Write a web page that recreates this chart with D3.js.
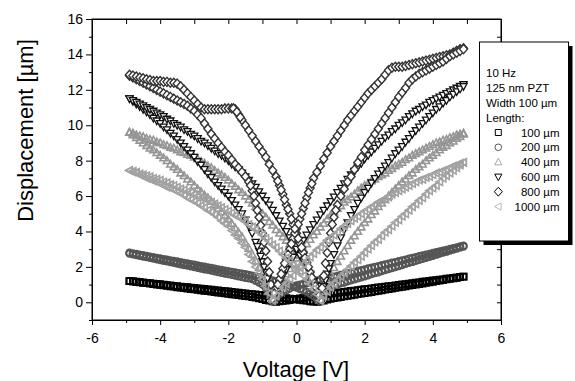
<!DOCTYPE html>
<html><head><meta charset="utf-8">
<script src="https://cdn.jsdelivr.net/npm/d3@7"></script>
<style>body{margin:0;background:#fff}svg{display:block}text{font-family:"Liberation Sans",Arial,sans-serif}</style>
</head><body>
<svg id="c" width="575" height="381"></svg>
<script>
// ---- data ----
const voltage = [-4.9,-4.8,-4.7,-4.6,-4.5,-4.4,-4.3,-4.2,-4.1,-4.0,
-3.9,-3.8,-3.7,-3.6,-3.5,-3.4,-3.3,-3.2,-3.1,-3.0,
-2.9,-2.8,-2.7,-2.6,-2.5,-2.4,-2.3,-2.2,-2.1,-2.0,
-1.9,-1.8,-1.7,-1.6,-1.5,-1.4,-1.3,-1.2,-1.1,-1.0,
-0.9,-0.8,-0.7,-0.6,-0.5,-0.4,-0.3,-0.2,-0.1,0,
0.1,0.2,0.3,0.4,0.5,0.6,0.7,0.8,0.9,1.0,
1.1,1.2,1.3,1.4,1.5,1.6,1.7,1.8,1.9,2.0,
2.1,2.2,2.3,2.4,2.5,2.6,2.7,2.8,2.9,3.0,
3.1,3.2,3.3,3.4,3.5,3.6,3.7,3.8,3.9,4.0,
4.1,4.2,4.3,4.4,4.5,4.6,4.7,4.8,4.9];

const d100a = [1.20,1.18,1.15,1.13,1.10,1.08,1.05,1.03,1.00,0.98,
0.95,0.93,0.90,0.88,0.85,0.83,0.80,0.78,0.75,0.73,
0.70,0.68,0.65,0.63,0.60,0.58,0.55,0.53,0.50,0.48,
0.45,0.43,0.40,0.38,0.35,0.33,0.30,0.26,0.22,0.18,
0.13,0.09,0.05,0.02,0.05,0.08,0.10,0.13,0.16,0.19,
0.22,0.25,0.28,0.31,0.34,0.37,0.40,0.43,0.46,0.49,
0.51,0.54,0.56,0.59,0.61,0.64,0.66,0.69,0.71,0.74,
0.76,0.79,0.81,0.84,0.86,0.89,0.91,0.93,0.96,0.98,
1.01,1.03,1.06,1.08,1.11,1.13,1.16,1.18,1.21,1.23,
1.25,1.28,1.30,1.33,1.35,1.38,1.40,1.43,1.45];
const d100b = [1.20,1.18,1.16,1.14,1.12,1.10,1.08,1.06,1.04,1.02,
1.00,0.97,0.95,0.93,0.91,0.89,0.87,0.85,0.83,0.81,
0.79,0.77,0.75,0.73,0.71,0.69,0.67,0.65,0.63,0.61,
0.59,0.56,0.54,0.52,0.50,0.48,0.46,0.44,0.42,0.40,
0.38,0.35,0.33,0.30,0.28,0.26,0.23,0.21,0.18,0.16,
0.14,0.11,0.09,0.06,0.04,0.02,0.06,0.10,0.15,0.20,
0.23,0.26,0.30,0.33,0.36,0.39,0.42,0.46,0.49,0.52,
0.55,0.58,0.62,0.65,0.68,0.71,0.74,0.78,0.81,0.84,
0.87,0.90,0.94,0.97,1.00,1.03,1.06,1.10,1.13,1.16,
1.19,1.22,1.26,1.29,1.32,1.35,1.38,1.42,1.45];

const d200a = [2.75,2.71,2.67,2.63,2.59,2.55,2.51,2.47,2.43,2.39,
2.35,2.31,2.27,2.23,2.19,2.15,2.11,2.07,2.03,1.99,
1.95,1.91,1.87,1.83,1.79,1.75,1.71,1.67,1.63,1.59,
1.55,1.51,1.47,1.43,1.39,1.35,1.31,1.22,1.12,1.00,
0.80,0.50,0.05,0.30,0.45,0.58,0.68,0.78,0.87,0.95,
1.00,1.04,1.09,1.13,1.18,1.22,1.27,1.31,1.36,1.40,
1.45,1.49,1.54,1.58,1.63,1.68,1.72,1.77,1.81,1.86,
1.91,1.95,2.00,2.04,2.09,2.14,2.18,2.23,2.27,2.32,
2.37,2.41,2.46,2.50,2.55,2.60,2.64,2.69,2.73,2.78,
2.83,2.87,2.92,2.96,3.01,3.06,3.10,3.15,3.19];
const d200b = [2.80,2.76,2.73,2.69,2.66,2.62,2.58,2.55,2.51,2.48,
2.44,2.40,2.37,2.33,2.30,2.26,2.22,2.19,2.15,2.12,
2.08,2.04,2.01,1.97,1.94,1.90,1.86,1.83,1.79,1.76,
1.72,1.68,1.65,1.61,1.58,1.54,1.50,1.46,1.41,1.37,
1.32,1.28,1.23,1.19,1.14,1.10,1.05,0.98,0.90,0.83,
0.75,0.68,0.60,0.48,0.35,0.20,0.05,0.45,0.70,0.85,
0.95,1.01,1.07,1.12,1.18,1.24,1.30,1.36,1.41,1.47,
1.53,1.59,1.65,1.70,1.76,1.82,1.88,1.94,1.99,2.05,
2.11,2.17,2.23,2.28,2.34,2.40,2.46,2.52,2.57,2.63,
2.69,2.75,2.81,2.86,2.92,2.98,3.04,3.10,3.15];

const d400a = [9.6,9.45,9.3,9.15,9.0,8.85,8.7,8.6,8.45,8.3,
8.15,8.0,7.8,7.65,7.5,7.3,7.15,6.95,6.8,6.6,
6.4,6.25,6.05,5.9,5.7,5.5,5.3,5.1,4.9,4.7,
4.45,4.2,3.95,3.7,3.35,3.05,2.7,2.35,1.95,1.6,
1.15,0.65,0.15,0.6,1.0,1.3,1.6,1.9,2.2,2.5,
2.8,3.05,3.3,3.55,3.8,4.0,4.25,4.45,4.7,4.9,
5.1,5.3,5.45,5.65,5.8,5.95,6.1,6.3,6.45,6.6,
6.7,6.85,6.95,7.1,7.2,7.3,7.45,7.55,7.7,7.8,
7.9,8.05,8.15,8.3,8.4,8.5,8.6,8.7,8.8,8.9,
9.0,9.05,9.15,9.2,9.3,9.35,9.45,9.5,9.55];
const d400b = [9.6,9.55,9.45,9.4,9.35,9.25,9.2,9.15,9.05,9.0,
8.9,8.85,8.75,8.7,8.6,8.5,8.45,8.35,8.3,8.2,
8.1,7.95,7.85,7.7,7.6,7.45,7.3,7.2,7.05,6.9,
6.7,6.55,6.35,6.2,6.0,5.8,5.6,5.4,5.2,5.0,
4.8,4.55,4.35,4.1,3.9,3.7,3.5,3.3,3.1,2.9,
2.65,2.4,2.1,1.7,1.3,0.8,0.15,0.7,1.2,1.6,
1.95,2.3,2.6,2.9,3.2,3.5,3.75,4.0,4.25,4.5,
4.7,4.95,5.15,5.4,5.6,5.8,6.0,6.2,6.4,6.6,
6.8,6.95,7.15,7.3,7.5,7.65,7.8,8.0,8.15,8.3,
8.45,8.6,8.75,8.85,9.0,9.1,9.25,9.35,9.5];

const d600a = [11.5,11.35,11.2,11.05,10.9,10.75,10.6,10.4,10.25,10.1,
9.9,9.75,9.55,9.4,9.2,9.0,8.8,8.6,8.4,8.2,
7.95,7.75,7.5,7.25,7.05,6.8,6.6,6.4,6.2,6.0,
5.75,5.5,5.25,5.0,4.65,4.3,3.9,3.4,2.9,2.3,
1.7,1.0,0.2,0.7,1.1,1.5,1.85,2.2,2.55,2.9,
3.2,3.5,3.8,4.1,4.4,4.65,4.95,5.2,5.45,5.7,
5.95,6.2,6.45,6.7,6.95,7.2,7.4,7.65,7.85,8.1,
8.3,8.5,8.7,8.9,9.1,9.3,9.45,9.65,9.8,10.0,
10.15,10.3,10.5,10.65,10.8,10.9,11.05,11.15,11.3,11.4,
11.5,11.6,11.7,11.8,11.9,12.0,12.1,12.2,12.3];
const d600b = [11.5,11.4,11.3,11.2,11.1,11.0,10.9,10.8,10.7,10.6,
10.5,10.35,10.25,10.1,10.0,9.9,9.75,9.65,9.5,9.4,
9.25,9.1,9.0,8.85,8.7,8.55,8.4,8.3,8.15,8.0,
7.8,7.65,7.5,7.3,7.1,6.9,6.7,6.5,6.25,6.0,
5.75,5.5,5.2,4.9,4.6,4.3,4.0,3.65,3.35,3.0,
2.65,2.35,2.0,1.6,1.2,0.7,0.2,0.9,1.6,2.2,
2.7,3.2,3.65,4.1,4.5,4.9,5.25,5.6,5.9,6.2,
6.45,6.75,7.0,7.25,7.45,7.7,7.9,8.15,8.4,8.6,
8.8,9.05,9.25,9.5,9.7,9.9,10.1,10.3,10.5,10.7,
10.9,11.05,11.25,11.4,11.6,11.75,11.9,12.05,12.2];

const d800a = [12.8,12.7,12.6,12.5,12.4,12.3,12.2,12.1,12.0,11.9,
11.8,11.7,11.6,11.5,11.4,11.3,11.2,11.1,10.95,10.8,
10.6,10.4,10.1,9.8,9.5,9.25,9.0,8.75,8.5,8.3,
8.05,7.8,7.6,7.35,7.1,6.8,6.3,5.6,4.8,3.9,
2.9,1.7,0.2,0.75,1.3,1.9,2.45,3.0,3.6,4.15,
4.7,5.3,5.9,6.45,7.0,7.35,7.7,8.1,8.45,8.8,
9.1,9.4,9.7,10.0,10.3,10.55,10.8,11.05,11.3,11.55,
11.8,12.0,12.2,12.4,12.6,12.85,13.1,13.25,13.3,13.3,
13.3,13.35,13.4,13.45,13.5,13.55,13.6,13.65,13.7,13.75,
13.8,13.85,13.9,13.95,14.0,14.1,14.2,14.3,14.35];
const d800b = [12.85,12.8,12.75,12.7,12.65,12.6,12.55,12.5,12.5,12.5,
12.45,12.45,12.4,12.4,12.35,12.2,12.0,11.8,11.6,11.4,
11.2,11.0,10.9,10.9,10.9,10.9,10.9,10.9,10.95,10.95,
10.95,10.9,10.6,10.3,10.0,9.7,9.4,9.1,8.8,8.5,
8.2,7.8,7.45,7.1,6.6,6.1,5.5,5.0,4.4,3.9,
3.35,2.8,2.25,1.7,1.15,0.6,0.1,1.5,2.8,3.9,
4.8,5.5,6.0,6.4,6.8,7.1,7.5,7.9,8.2,8.6,
8.9,9.2,9.5,9.8,10.1,10.4,10.7,11.0,11.3,11.6,
11.85,12.1,12.4,12.6,12.75,12.9,13.0,13.1,13.2,13.3,
13.4,13.5,13.6,13.75,13.9,14.0,14.1,14.2,14.3];

const d1000a = [7.45,7.35,7.3,7.2,7.1,7.0,6.95,6.85,6.8,6.7,
6.6,6.5,6.45,6.35,6.25,6.15,6.05,5.9,5.8,5.7,
5.6,5.45,5.35,5.2,5.1,4.95,4.8,4.6,4.45,4.3,
4.05,3.8,3.6,3.35,3.1,2.7,2.3,2.0,1.65,1.3,
0.9,0.5,0.1,0.35,0.6,0.85,1.05,1.3,1.5,1.75,
1.95,2.15,2.35,2.55,2.75,2.95,3.1,3.3,3.5,3.65,
3.8,3.95,4.15,4.3,4.45,4.6,4.75,4.85,5.0,5.15,
5.25,5.4,5.5,5.65,5.75,5.85,5.95,6.1,6.2,6.3,
6.4,6.5,6.6,6.7,6.8,6.9,6.95,7.05,7.1,7.2,
7.3,7.35,7.45,7.5,7.6,7.7,7.75,7.85,7.9];
const d1000b = [7.45,7.4,7.35,7.25,7.2,7.15,7.1,7.0,6.95,6.9,
6.8,6.75,6.65,6.6,6.5,6.4,6.35,6.25,6.2,6.1,
6.0,5.9,5.85,5.75,5.65,5.55,5.45,5.35,5.25,5.15,
5.05,4.9,4.8,4.7,4.55,4.4,4.25,4.1,3.95,3.8,
3.6,3.45,3.25,3.1,2.9,2.7,2.5,2.35,2.15,1.95,
1.75,1.5,1.3,1.05,0.75,0.45,0.1,0.35,0.6,0.85,
1.05,1.25,1.45,1.65,1.85,2.05,2.25,2.4,2.6,2.8,
3.0,3.2,3.4,3.55,3.75,3.95,4.1,4.3,4.5,4.65,
4.85,5.0,5.2,5.4,5.55,5.75,5.9,6.1,6.3,6.45,
6.6,6.8,7.0,7.15,7.3,7.45,7.6,7.75,7.9];

// extra readings on the steep parts of the loops: [voltage, displacement]
const x200 = [[-0.85,0.68],[-0.75,0.3],[-0.65,0.18],[0.75,0.25],[0.65,0.12]];
const x400 = [[-0.85,0.9],[-0.75,0.4],[-0.65,0.38],[0.55,1.05],[0.65,0.5],[0.75,0.4],[0.85,0.95]];
const x600 = [[-1.15,3.15],[-1.05,2.6],[-0.95,2.0],[-0.85,1.35],[-0.75,0.6],[-0.65,0.45],
  [0.55,0.95],[0.65,0.45],[0.75,0.55],[0.85,1.25],[0.95,1.9]];
const x800 = [[-1.35,6.6],[-1.25,6.0],[-1.15,5.2],[-1.05,4.35],[-0.95,3.4],[-0.85,2.3],[-0.75,1.0],
  [-0.65,0.5],[-0.55,1.0],[-0.45,1.6],[-0.35,2.2],[-0.25,2.7],[-0.15,3.3],[-0.05,3.9],[0.05,4.4],
  [0.15,5.0],[0.25,5.6],[0.35,6.2],[0.45,6.7],
  [-0.55,6.85],[-0.45,6.35],[-0.35,5.8],[-0.25,5.25],[-0.15,4.7],[-0.05,4.15],[0.05,3.6],[0.15,3.1],
  [0.25,2.5],[0.35,2.0],[0.45,1.4],[0.55,0.9],[0.65,0.35],[0.75,0.8],[0.85,2.2],[0.95,3.4],
  [1.05,4.4],[1.15,5.2],[-1.85,10.95],[-1.75,10.75],[-1.65,10.45]];

const lengthLabels = ["100 µm","200 µm","400 µm","600 µm","800 µm","1000 µm"];
const legendHeader = ["10 Hz","125 nm PZT","Width 100 µm","Length:"];
const xTicks = [-6,-4,-2,0,2,4,6];
const yTicks = [0,2,4,6,8,10,12,14,16];
const xTitle = "Voltage [V]";
const yTitle = "Displacement [µm]";

// ---- styles ----
const symbols = {
  square: "M-3,-3H3V3H-3Z",
  circle: "M3.3,0A3.3,3.3 0 1,1 -3.3,0A3.3,3.3 0 1,1 3.3,0Z",
  up: "M0,-3.8L3.6,2.8L-3.6,2.8Z",
  down: "M0,3.8L3.6,-2.8L-3.6,-2.8Z",
  diamond: "M0,-4.5L4,0L0,4.5L-4,0Z",
  left: "M-3.8,0L2.8,-3.6L2.8,3.6Z"
};
const series = [
  {label: lengthLabels[0], shape: "square",  color: "#000",    lcolor: "#000", fill: "none", sw: 1.8, a: d100a,  b: d100b,  extra: []},
  {label: lengthLabels[1], shape: "circle",  color: "#555",    lcolor: "#555", fill: "none", sw: 1.8, a: d200a,  b: d200b,  extra: x200},
  {label: lengthLabels[2], shape: "up",      color: "#959595", lcolor: "#aaa", fill: "none", sw: 1.6, a: d400a,  b: d400b,  extra: x400},
  {label: lengthLabels[3], shape: "down",    color: "#111",    lcolor: "#000", fill: "#fff", sw: 1.3, a: d600a,  b: d600b,  extra: x600},
  {label: lengthLabels[4], shape: "diamond", color: "#333",    lcolor: "#000", fill: "#fff", sw: 1.4, a: d800a,  b: d800b,  extra: x800},
  {label: lengthLabels[5], shape: "left",    color: "#a2a2a2", lcolor: "#bbb", fill: "none", sw: 1.6, a: d1000a, b: d1000b, extra: []}
];

const svg = d3.select("#c");
const L = 92, R = 501, T = 19, B = 320;
const x = d3.scaleLinear().domain([-6, 6]).range([L, R]);
const y = d3.scaleLinear().domain([-1, 16]).range([B, T]);

// markers
const plot = svg.append("g");
series.forEach(s => {
  const pts = voltage.map((v, i) => [v, s.a[i]])
    .concat(voltage.map((v, i) => [v, s.b[i]]))
    .concat(s.extra);
  plot.append("g").selectAll("path").data(pts).join("path")
    .attr("d", symbols[s.shape])
    .attr("transform", d => `translate(${x(d[0])},${y(d[1])})`)
    .attr("fill", s.fill)
    .attr("stroke", s.color)
    .attr("stroke-width", s.sw);
});

// frame
svg.append("rect").attr("x", L).attr("y", T).attr("width", R - L).attr("height", B - T)
  .attr("fill", "none").attr("stroke", "#000").attr("stroke-width", 1);

const fmt = d => String(d);
const ints = (a, b) => d3.range(a, b + 1);
// bottom axis
const gx = svg.append("g").attr("transform", `translate(0,${B})`)
  .call(d3.axisBottom(x).tickValues(xTicks).tickSize(5).tickSizeOuter(0).tickPadding(8).tickFormat(fmt));
svg.append("g").attr("transform", `translate(0,${B})`)
  .call(d3.axisBottom(x).tickValues(ints(-6, 6).filter(v => v % 2 !== 0)).tickSize(3).tickSizeOuter(0).tickFormat(""));
// left axis
const gy = svg.append("g").attr("transform", `translate(${L},0)`)
  .call(d3.axisLeft(y).tickValues(yTicks).tickSize(6).tickSizeOuter(0).tickPadding(3).tickFormat(fmt));
svg.append("g").attr("transform", `translate(${L},0)`)
  .call(d3.axisLeft(y).tickValues(ints(-1, 16).filter(v => v % 2 !== 0)).tickSize(3).tickSizeOuter(0).tickFormat(""));
// top axis (ticks inward)
svg.append("g").attr("transform", `translate(0,${T})`)
  .call(d3.axisBottom(x).tickValues(ints(-6, 6)).tickSize(5).tickSizeOuter(0).tickFormat(""));
// right axis (ticks inward)
svg.append("g").attr("transform", `translate(${R},0)`)
  .call(d3.axisLeft(y).tickValues(ints(-1, 16)).tickSize(4).tickSizeOuter(0).tickFormat(""));

svg.selectAll(".tick line").attr("stroke", "#000");
svg.selectAll(".domain").attr("stroke", "#000");
[gx, gy].forEach(g => g.selectAll("text").attr("font-size", 14).attr("fill", "#000")
  .attr("font-family", "Liberation Sans, Arial, sans-serif"));

// axis titles
svg.append("text").attr("x", 296).attr("y", 377).attr("text-anchor", "middle")
  .attr("font-size", 22).text(xTitle);
svg.append("text").attr("transform", "translate(32.5,130.5) rotate(-90)").attr("text-anchor", "middle")
  .attr("font-size", 22).text(yTitle);

// legend
const lg = svg.append("g");
const bx = 479.5, by = 42, bw = 89, bh = 199;
lg.append("rect").attr("x", bx + 4).attr("y", by + 4).attr("width", bw).attr("height", bh).attr("fill", "#000");
lg.append("rect").attr("x", bx).attr("y", by).attr("width", bw).attr("height", bh)
  .attr("fill", "#fff").attr("stroke", "#000").attr("stroke-width", 1);
const rowY = i => 73.3 + i * 14.8;
legendHeader.forEach((t, i) => {
  lg.append("text").attr("x", 486).attr("y", rowY(i) + 4.1).attr("font-size", 11.5).text(t);
});
series.forEach((s, i) => {
  const cy = rowY(i + 4);
  lg.append("path").attr("d", symbols[s.shape]).attr("transform", `translate(498.3,${cy})`)
    .attr("fill", "#fff").attr("stroke", s.lcolor).attr("stroke-width", 1);
  lg.append("text").attr("x", 559.5).attr("y", cy + 4.1).attr("text-anchor", "end")
    .attr("font-size", 11.5).text(s.label);
});
</script>
</body></html>
